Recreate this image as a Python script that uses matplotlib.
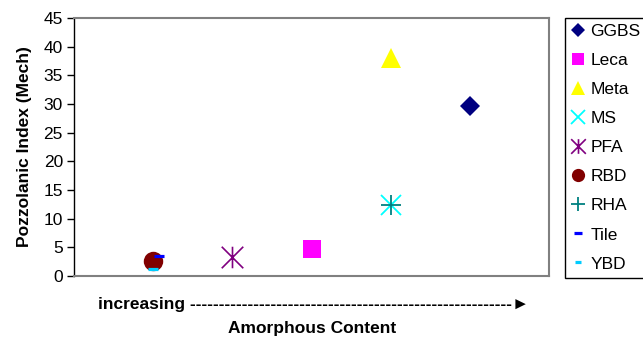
import matplotlib
matplotlib.use('Agg')
import matplotlib.pyplot as plt
from matplotlib.path import Path

plt.rcParams['font.family'] = ['Liberation Sans', 'DejaVu Sans']

# Pozzolanic index (mechanical) for each material, ordered by amorphous content
materials = ['GGBS', 'Leca', 'Meta', 'MS', 'PFA', 'RBD', 'RHA', 'Tile', 'YBD']
position = [5, 3, 4, 4, 2, 1, 4, 1.07, 1]
pozz_index = [29.7, 4.7, 38.0, 12.4, 3.3, 2.7, 12.4, 3.5, 1.3]

# asterisk marker: an x with a vertical bar through it
star = Path([(-0.5, -0.5), (0.5, 0.5), (-0.5, 0.5), (0.5, -0.5), (0, -0.5), (0, 0.5)],
            [Path.MOVETO, Path.LINETO, Path.MOVETO, Path.LINETO, Path.MOVETO, Path.LINETO])

styles = {
    'GGBS': dict(marker='D', color='#000080', ms=10.2, mew=0),
    'Leca': dict(marker='s', color='#FF00FF', ms=13.5, mew=0),
    'Meta': dict(marker='^', color='#FFFF00', ms=14.5, mew=0),
    'MS':   dict(marker='x', color='#00FFFF', ms=14.5, mew=1.3),
    'PFA':  dict(marker=star, color='#800080', ms=15.5, mew=1.2),
    'RBD':  dict(marker='o', color='#800000', ms=14, mew=0),
    'RHA':  dict(marker='+', color='#008080', ms=14.5, mew=1.3),
    'Tile': dict(marker='_', color='#0000FF', ms=7.5, mew=2.3),
    'YBD':  dict(marker='_', color='#00CCFF', ms=6.5, mew=2.3),
}

fig = plt.figure(figsize=(6.43, 3.40), dpi=100)
ax = fig.add_axes([74/643, 1 - 276/340, 475/643, 258/340])

for name, x, y in zip(materials, position, pozz_index):
    st = styles[name]
    ax.plot([x], [y], linestyle='none', marker=st['marker'], color=st['color'],
            markersize=st['ms'], markeredgewidth=st['mew'], label=name)

ax.set_xlim(0, 6)
ax.set_ylim(0, 45)
ax.set_yticks(range(0, 46, 5))
ax.set_xticks([])
ax.tick_params(axis='y', direction='out', length=5, width=1, labelsize=12.5, pad=3)

for side in ['top', 'right', 'bottom']:
    ax.spines[side].set_color('#808080')
    ax.spines[side].set_linewidth(1.5)
ax.spines['left'].set_color('black')
ax.spines['left'].set_linewidth(1)

ax.set_ylabel('Pozzolanic Index (Mech)', fontsize=12.5, fontweight='bold', labelpad=8)

fig.text(98/643, 1 - 305/340, 'increasing ' + '-' * 56 + '\u25ba',
         fontsize=12.5, fontweight='bold', ha='left', va='center')
fig.text(312/643, 1 - 328/340, 'Amorphous Content',
         fontsize=12.5, fontweight='bold', ha='center', va='center')

leg = fig.legend(loc='upper left', bbox_to_anchor=(565/643, 1 - 18/340),
                 borderaxespad=0, fontsize=12.5, markerscale=0.68,
                 handlelength=0.8, handletextpad=0.3, labelspacing=0.8,
                 borderpad=0.35, fancybox=False, framealpha=1)
leg.get_frame().set_edgecolor('black')
leg.get_frame().set_linewidth(1)

fig.savefig('out.png', dpi=100)
